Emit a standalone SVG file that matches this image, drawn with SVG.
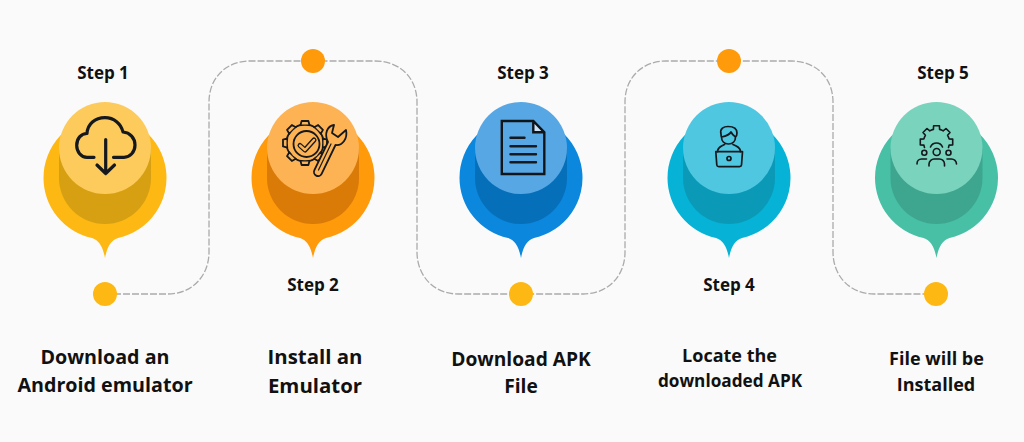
<svg xmlns="http://www.w3.org/2000/svg" xmlns:xlink="http://www.w3.org/1999/xlink" width="1024" height="442" viewBox="0 0 1024 442">
<style>
text{font-family:"Open Sans","Liberation Sans",sans-serif;font-weight:700;fill:#111;text-anchor:middle}
.s{font-size:17px}.l{font-size:19.7px}.e{font-size:20.4px}.a{font-size:19.2px}.m{font-size:18px}.d{font-size:17.2px}
.i{fill:none;stroke:#15181c;stroke-linecap:round;stroke-linejoin:round}
</style>
<defs>
<path id="pin" d="M-61.5,30 A61.5,61.5 0 1 1 13,90 C6,92 2,99 0,110 C-2,99 -6,92 -13,90 A61.5,61.5 0 0 1 -61.5,30 Z"/>
<path id="t1" d="M-4.6,-17.6 L-3.4,-22 H3.4 L4.6,-17.6 Z"/>
</defs>
<rect width="1024" height="442" fill="#fafafa"/>
<g id="connectors">
<path d="M105,294 H168 C192,294 209,276 209,252 V102 C209,78 226,61 250,61 H375 C400,61 417,78 417,102 V252 C417,276 434,294 458,294 H583 C608,294 625,276 625,252 V102 C625,78 642,61 666,61 H791 C816,61 833,78 833,102 V252 C833,276 850,294 874,294 H936" fill="none" stroke="#ababab" stroke-width="1.3" stroke-dasharray="7 2"/>
</g>
<g id="step1">
<circle cx="105" cy="294" r="12" fill="#fdb813"/>
<text class="s" x="103" y="79">Step 1</text>
<use xlink:href="#pin" x="105" y="148" fill="#fdb813"/>
<path d="M59,148 H151 V178 A46,46 0 0 1 59,178 Z" fill="#d7a012"/>
<circle cx="105" cy="148" r="46" fill="#fdcb5c"/>
<path class="i" stroke-width="3.2" d="M94,157.3 H87 C81,157.3 76.7,151.5 76.7,145.5 C76.7,138.5 81,133.5 87,133.5 C87.5,124 95,117.7 105,117.7 C114,117.7 121,123.5 123,132 C130,132.5 135,138 135,145 C135,152 130,157.3 124,157.3 H113.5"/>
<path class="i" stroke-width="3.2" d="M105.7,139.5 V173.5 M97,165 L105.7,173.5 L114.5,165"/>
<text class="l" x="105" y="364">Download an</text>
<text class="l" x="105" y="392">Android emulator</text>
</g>
<g id="step2">
<circle cx="313" cy="61" r="12" fill="#ff9a0a"/>
<text class="s" x="313" y="291">Step 2</text>
<use xlink:href="#pin" x="313" y="148" fill="#ff9a0a"/>
<path d="M267,148 H359 V178 A46,46 0 0 1 267,178 Z" fill="#da7a07"/>
<circle cx="313" cy="148" r="46" fill="#fdb353"/>
<g transform="translate(305,143)">
<circle class="i" r="18.5" stroke-width="1.8"/>
<g fill="#fdb353" stroke="#15181c" stroke-width="1.8" stroke-linejoin="round">
<use xlink:href="#t1"/><use xlink:href="#t1" transform="rotate(45)"/><use xlink:href="#t1" transform="rotate(90)"/><use xlink:href="#t1" transform="rotate(135)"/><use xlink:href="#t1" transform="rotate(180)"/><use xlink:href="#t1" transform="rotate(225)"/><use xlink:href="#t1" transform="rotate(270)"/><use xlink:href="#t1" transform="rotate(315)"/>
</g>
<circle r="17.2" fill="#fdb353"/>
<circle class="i" cx="1.5" cy="1" r="13" stroke-width="1.8"/>
<path d="M-5,2.5 L0,7 L9,-3" fill="none" stroke="#15181c" stroke-width="5" stroke-linecap="round" stroke-linejoin="round"/>
<path d="M-5,2.5 L0,7 L9,-3" fill="none" stroke="#fdb353" stroke-width="2.4" stroke-linecap="round" stroke-linejoin="round"/>
</g>
<path d="M314.4,170.2 L328,142 C324,134 327,126 334,125 L332,133 L338,137 L346,130 C348,139 342,146 335.5,145 L321.6,173.8 A4,4 0 0 1 314.4,170.2 Z" fill="#fdb353" stroke="#15181c" stroke-width="1.8" stroke-linejoin="round"/>
<path class="i" stroke-width="1.2" d="M318.5,170 L331,144"/>
<text class="e" x="315" y="364">Install an</text>
<text class="e" x="315" y="393">Emulator</text>
</g>
<g id="step3">
<circle cx="521" cy="294" r="12" fill="#fdb813"/>
<text class="s" x="523" y="79">Step 3</text>
<use xlink:href="#pin" x="521" y="148" fill="#0c87de"/>
<path d="M475,148 H567 V178 A46,46 0 0 1 475,178 Z" fill="#066fb9"/>
<circle cx="521" cy="148" r="46" fill="#57a7e5"/>
<path d="M533.3,121 V132.3 H544.3 Z" fill="#cfe3f5"/>
<path d="M501.8,121 H533.3 L544.3,132.3 V174 H501.8 Z M533.3,121 V132.3 H544.3" fill="none" stroke="#10151a" stroke-width="2.4"/>
<path class="i" stroke-width="2.4" d="M510.5,137.7 H524.5 M510.5,146.3 H536 M510.5,154.3 H536 M510.5,162.3 H536"/>
<text class="a" x="521" y="366">Download APK</text>
<text class="a" x="521" y="393">File</text>
</g>
<g id="step4">
<circle cx="729" cy="61" r="12" fill="#ff9a0a"/>
<text class="s" x="729" y="291">Step 4</text>
<use xlink:href="#pin" x="729" y="148" fill="#06b3d6"/>
<path d="M683,148 H775 V178 A46,46 0 0 1 683,178 Z" fill="#0a9ab7"/>
<circle cx="729" cy="148" r="46" fill="#4fc7e1"/>
<path class="i" stroke-width="1.7" d="M721,134 C719.5,128.5 724,126.5 728,126.5 C733,126.5 737,128.5 737,133 C737,135 736.5,136 735.5,137 C735.5,141 733,144 728.5,144 C724,144 721.5,141 721.5,137 C721,136 721,135 721,134 Z M721.5,137 C726,136 730,134 731,132 C732,134 734,136 735.5,137"/>
<path class="i" stroke-width="1.7" d="M717.5,151.7 C717.5,147.5 721,146 724.5,144.5 M740.5,151.7 C740.5,147.5 737,146 733,144.5"/>
<path class="i" stroke-width="1.7" d="M715.8,151.7 H742.5 L741.5,165 Q741.4,166.6 739.5,166.6 H718.8 Q717,166.6 716.8,165 Z"/>
<circle class="i" cx="729" cy="158.5" r="2" stroke-width="1.7"/>
<text class="m" x="729.5" y="362">Locate the</text>
<text class="d" x="730" y="387">downloaded APK</text>
</g>
<g id="step5">
<circle cx="936" cy="294" r="12" fill="#fdb813"/>
<text class="s" x="943" y="79">Step 5</text>
<use xlink:href="#pin" x="936.5" y="148" fill="#47c0a6"/>
<path d="M890.5,148 H982.5 V178 A46,46 0 0 1 890.5,178 Z" fill="#3ea68f"/>
<circle cx="936.5" cy="148" r="46" fill="#79d3bd"/>
<g transform="translate(936.5,142)">
<path class="i" stroke-width="1.6" d="M-12,5.5 L-12.6,3.1 L-16.2,2.9 L-16.2,-2.9 L-12.6,-3.1 A13,13 0 0 1 -11.1,-6.7 L-13.5,-9.5 L-9.5,-13.5 L-6.7,-11.1 A13,13 0 0 1 -3.1,-12.6 L-2.9,-16.2 H2.9 L3.1,-12.6 A13,13 0 0 1 6.7,-11.1 L9.5,-13.5 L13.5,-9.5 L11.1,-6.7 A13,13 0 0 1 12.6,-3.1 L16.2,-2.9 L16.2,2.9 L12.6,3.1 L12,5.5"/>
<path class="i" stroke-width="1.6" d="M-6,5 A6.5,6.5 0 0 1 6,5"/>
</g>
<g class="i" stroke-width="1.6">
<circle cx="936.7" cy="152" r="3.5"/>
<circle cx="924.3" cy="152.7" r="2.5"/>
<circle cx="948.5" cy="152.7" r="2.5"/>
<path d="M929,166 V164 C929,161 932,159 934,159 H939.5 C942,159 944.5,161 944.5,164 V166"/>
<path d="M917,164 C917,161 919,159 921.5,159 H926.5"/>
<path d="M956.5,164 C956.5,161 954,159 951.5,159 H947"/>
</g>
<text class="m" x="936.5" y="365">File will be</text>
<text class="m" x="936" y="391">Installed</text>
</g>
</svg>
